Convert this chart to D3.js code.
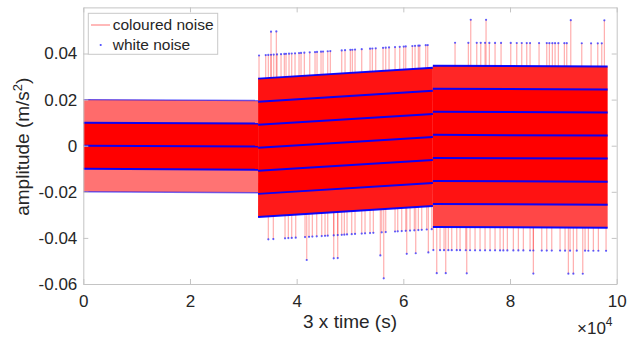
<!DOCTYPE html>
<html>
<head>
<meta charset="utf-8">
<script src="https://cdn.jsdelivr.net/npm/d3@7"></script>
<style>
  body { margin: 0; background: #fff; }
  svg { display: block; }
  text { font-family: "Liberation Sans", Arial, sans-serif; fill: #262626; }
</style>
</head>
<body>
<div id="chart"></div>
<script>
// record segments (sample index) and drift of the quantisation grid at each end
const segStart = [0, 32768, 65536];
const segEnd = [32768, 65536, 98304];
const driftStart = [0.0, -0.0009, 0.0047];
const driftEnd = [-0.0004, 0.0038, 0.0044];
const quantStep = 0.01;

// coloured noise bands between grid levels: [segment, kLow, kHigh, share of samples]
const bands = [
  [0, -2, -1, 0.55], [0, -1, 1, 1], [0, 1, 2, 0.58],
  [1, -3, -2, 0.9], [1, -2, 2, 1], [1, 2, 3, 0.93],
  [2, -4, -3, 0.72], [2, -3, -2, 0.93], [2, -2, 2, 1], [2, 2, 3, 0.85]
];

// isolated excursions (sample index) reaching grid level k
const spikesB4 = [32944, 34200, 34688, 35194, 35700, 36319, 37069, 37688, 38006, 38569, 39075, 39694, 40444, 40819, 41438, 42450, 43444, 43819, 44569, 44944, 45825, 46313, 48450, 49069, 50063, 50438, 50944, 52200, 53756, 54188, 54825, 56194, 56700, 57319, 58444, 59325, 60075, 60450, 61688, 62194, 62813, 63075, 64200, 64575];
const spikesB5 = [35194, 36188];
const spikesBm4 = [34688, 35625, 37819, 38438, 39075, 39825, 41569, 42319, 42938, 43763, 44700, 45319, 45825, 46950, 47700, 48450, 48938, 49444, 50325, 50944, 52200, 52819, 53756, 54375, 55950, 56700, 58444, 58950, 59700, 60450, 61256, 62063, 62813, 63450, 64388, 65325];
const spikesBm5 = [41888, 46950, 47700, 55688, 60638, 62325, 64688];
const spikesBm6 = [56325];
const spikesC4 = [69694, 72188, 73763, 74513, 75319, 76125, 77194, 78319, 80138, 81263, 82200, 83138, 83756, 85444, 86888, 87375, 87938, 88444, 89063, 90188, 90638, 93450, 95194, 96450, 97200];
const spikesC5 = [72638, 75506, 91388, 97688];
const spikesCm5 = [65625, 66881, 67631, 68438, 69075, 70013, 70631, 71700, 72506, 73444, 74381, 75319, 76256, 77194, 78131, 78750, 79500, 80625, 81563, 82500, 83756, 84375, 85950, 86888, 87825, 89381, 90319, 91256, 92513, 94069, 94688, 95625, 96563, 98006];
const spikesCm6 = [66263, 67950, 71888, 84375, 90938, 91875, 93638];

const spikeSets = [
  [1, 4, spikesB4], [1, 5, spikesB5], [1, -4, spikesBm4], [1, -5, spikesBm5], [1, -6, spikesBm6],
  [2, 4, spikesC4], [2, 5, spikesC5], [2, -5, spikesCm5], [2, -6, spikesCm6]
];

const xTicks = [0, 20000, 40000, 60000, 80000, 100000];
const yTicks = [-0.06, -0.04, -0.02, 0, 0.02, 0.04];

const width = 637, height = 341;
const margin = { top: 7.4, left: 83.3, bottom: 57, right: 20.3 };
const axisColor = "#c4c4c4";

const svg = d3.select("#chart").append("svg")
  .attr("width", width).attr("height", height);

const x = d3.scaleLinear().domain([0, 100000]).range([margin.left, width - margin.right]);
const y = d3.scaleLinear().domain([-0.06, 0.06]).range([height - margin.bottom, margin.top]);

const drift = segStart.map((s, i) => d3.scaleLinear().domain([s, segEnd[i]]).range([driftStart[i], driftEnd[i]]));
const level = (s, k, t) => drift[s](t) + k * quantStep;

svg.append("clipPath").attr("id", "plotclip")
  .append("rect")
  .attr("x", x(0)).attr("y", y(0.06))
  .attr("width", x(100000) - x(0)).attr("height", y(-0.06) - y(0.06));

const plot = svg.append("g").attr("clip-path", "url(#plotclip)");

// coloured noise bands
const area = d3.area()
  .x(d => x(d.t))
  .y0(d => y(d.lo))
  .y1(d => y(d.hi));

plot.append("g")
  .selectAll("path")
  .data(bands)
  .join("path")
  .attr("d", ([s, kl, kh]) => area([segStart[s], segEnd[s]].map(t => ({ t, lo: level(s, kl, t), hi: level(s, kh, t) }))))
  .attr("fill", "#ff0000")
  .attr("fill-opacity", d => d[3]);

// outer edge of the dense part of each segment
const topEdge = segStart.map((_, s) => d3.max(bands.filter(b => b[0] === s), b => b[2]));
const botEdge = segStart.map((_, s) => d3.min(bands.filter(b => b[0] === s), b => b[1]));

const spikes = spikeSets.flatMap(([s, k, xs]) => xs.map(t => ({ s, k, t })));

plot.append("g")
  .selectAll("line")
  .data(spikes)
  .join("line")
  .attr("x1", d => x(d.t)).attr("x2", d => x(d.t))
  .attr("y1", d => y(level(d.s, d.k > 0 ? topEdge[d.s] : botEdge[d.s], d.t)))
  .attr("y2", d => y(level(d.s, d.k, d.t)))
  .attr("stroke", "#ff0000")
  .attr("stroke-opacity", 0.32)
  .attr("stroke-width", 1.2);

// white noise: grid levels hit by many samples
const levelLines = segStart.flatMap((_, s) => d3.range(botEdge[s], topEdge[s] + 1).map(k => {
  let share = 1;
  if (k === topEdge[s]) share = bands.find(b => b[0] === s && b[2] === k)[3];
  if (k === botEdge[s]) share = bands.find(b => b[0] === s && b[1] === k)[3];
  return { s, k, share };
}));

plot.append("g")
  .selectAll("line")
  .data(levelLines)
  .join("line")
  .attr("x1", d => x(segStart[d.s])).attr("x2", d => x(segEnd[d.s]))
  .attr("y1", d => y(level(d.s, d.k, segStart[d.s])))
  .attr("y2", d => y(level(d.s, d.k, segEnd[d.s])))
  .attr("stroke", "#0000ff")
  .attr("stroke-opacity", d => d.share < 0.7 ? d.share : 0.95)
  .attr("stroke-width", d => d.share < 0.7 ? 1.4 : 2);

plot.append("g")
  .selectAll("circle")
  .data(spikes)
  .join("circle")
  .attr("cx", d => x(d.t))
  .attr("cy", d => y(level(d.s, d.k, d.t)))
  .attr("r", 1.1)
  .attr("fill", "#2020ff")
  .attr("fill-opacity", 0.7);

// axes (ticks inward, box on)
const styleAxis = g => {
  g.select(".domain").attr("stroke", axisColor);
  g.selectAll(".tick line").attr("stroke", axisColor);
  g.selectAll(".tick text").attr("fill", "#262626").style("font-size", "17px")
    .style("font-family", "'Liberation Sans', Arial, sans-serif");
};

svg.append("g")
  .attr("transform", `translate(0,${y(-0.06)})`)
  .call(d3.axisBottom(x).tickValues(xTicks).tickFormat(d => d / 10000).tickSizeInner(-5).tickSizeOuter(0).tickPadding(11))
  .call(styleAxis);

svg.append("g")
  .attr("transform", `translate(0,${y(0.06)})`)
  .call(d3.axisTop(x).tickValues(xTicks).tickFormat("").tickSizeInner(-5).tickSizeOuter(0))
  .call(styleAxis);

svg.append("g")
  .attr("transform", `translate(${x(0)},0)`)
  .call(d3.axisLeft(y).tickValues(yTicks).tickFormat(d => d === 0 ? "0" : d3.format(".2f")(d).replace("−", "-")).tickSizeInner(-5).tickSizeOuter(0).tickPadding(6))
  .call(styleAxis);

svg.append("g")
  .attr("transform", `translate(${x(100000)},0)`)
  .call(d3.axisRight(y).tickValues(yTicks).tickFormat("").tickSizeInner(-5).tickSizeOuter(0))
  .call(styleAxis);

svg.selectAll(".domain").attr("stroke-width", 1);

// labels
svg.append("text")
  .attr("x", (x(0) + x(100000)) / 2)
  .attr("y", 328)
  .attr("text-anchor", "middle")
  .style("font-size", "19px")
  .text("3 x time (s)");

const ylab = svg.append("text")
  .attr("transform", `translate(29,${(y(0.06) + y(-0.06)) / 2 + 1}) rotate(-90)`)
  .attr("text-anchor", "middle")
  .style("font-size", "19px");
ylab.append("tspan").text("amplitude (m/s");
ylab.append("tspan").attr("dy", -7).style("font-size", "13px").text("2");
ylab.append("tspan").attr("dy", 7).text(")");

const expo = svg.append("text")
  .attr("x", 577)
  .attr("y", 333.5)
  .style("font-size", "17px");
expo.append("tspan").text("×10");
expo.append("tspan").attr("dy", -8).style("font-size", "12px").text("4");

// legend
const legend = svg.append("g");
legend.append("rect")
  .attr("x", 88.3).attr("y", 13.3)
  .attr("width", 129.4).attr("height", 41)
  .attr("fill", "#fff")
  .attr("stroke", "#c8c8c8");
legend.append("line")
  .attr("x1", 91).attr("x2", 110).attr("y1", 25).attr("y2", 25)
  .attr("stroke", "#ff0000").attr("stroke-opacity", 0.55).attr("stroke-width", 1);
legend.append("circle")
  .attr("cx", 100.7).attr("cy", 45).attr("r", 1.1)
  .attr("fill", "#2020ff").attr("fill-opacity", 0.8);
legend.append("text").attr("x", 112.7).attr("y", 30).style("font-size", "15.5px").text("coloured noise");
legend.append("text").attr("x", 112.7).attr("y", 50).style("font-size", "15.5px").text("white noise");
</script>
</body>
</html>
